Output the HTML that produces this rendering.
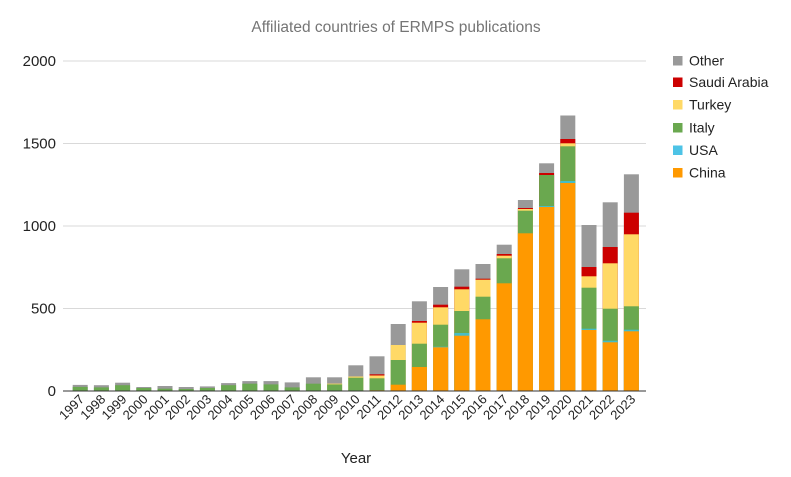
<!DOCTYPE html>
<html><head><meta charset="utf-8"><style>
html,body{margin:0;padding:0;background:#fff;}
svg{display:block;font-family:"Liberation Sans",Arial,sans-serif;}
</style></head><body>
<svg width="791" height="477" viewBox="0 0 791 477" xmlns="http://www.w3.org/2000/svg">
<rect width="791" height="477" fill="#fff"/>
<text x="396" y="32" text-anchor="middle" font-size="15.5" fill="#757575">Affiliated countries of ERMPS publications</text>
<g stroke="#d9d9d9" stroke-width="1">
<line x1="63" y1="61" x2="646" y2="61"/>
<line x1="63" y1="143.5" x2="646" y2="143.5"/>
<line x1="63" y1="226" x2="646" y2="226"/>
<line x1="63" y1="308.5" x2="646" y2="308.5"/>
</g>
<g font-size="15" fill="#222" text-anchor="end">
<text x="56" y="66">2000</text>
<text x="56" y="148.5">1500</text>
<text x="56" y="231">1000</text>
<text x="56" y="313.5">500</text>
<text x="56" y="396">0</text>
</g>
<!-- early bars: green + gray -->
<g>
<rect x="72.7" y="384.9" width="15" height="6.1" fill="#999"/><rect x="72.7" y="386.9" width="15" height="4.1" fill="#6aa84f"/>
<rect x="93.9" y="385.2" width="15" height="5.8" fill="#999"/><rect x="93.9" y="387.4" width="15" height="3.6" fill="#6aa84f"/>
<rect x="115.1" y="382.7" width="15" height="8.3" fill="#999"/><rect x="115.1" y="385.2" width="15" height="5.8" fill="#6aa84f"/>
<rect x="136.3" y="387" width="15" height="4" fill="#999"/><rect x="136.3" y="388" width="15" height="3" fill="#6aa84f"/>
<rect x="157.5" y="386" width="15" height="5" fill="#999"/><rect x="157.5" y="388.7" width="15" height="2.3" fill="#6aa84f"/>
<rect x="178.7" y="387" width="15" height="4" fill="#999"/><rect x="178.7" y="389" width="15" height="2" fill="#6aa84f"/>
<rect x="199.9" y="386.4" width="15" height="4.6" fill="#999"/><rect x="199.9" y="388" width="15" height="3" fill="#6aa84f"/>
<rect x="221.1" y="383.1" width="15" height="7.9" fill="#999"/><rect x="221.1" y="385.2" width="15" height="5.8" fill="#6aa84f"/>
<rect x="242.3" y="381.1" width="15" height="9.9" fill="#999"/><rect x="242.3" y="383.7" width="15" height="7.3" fill="#6aa84f"/>
<rect x="263.5" y="381.1" width="15" height="9.9" fill="#999"/><rect x="263.5" y="384.4" width="15" height="6.6" fill="#6aa84f"/>
<rect x="284.7" y="382.4" width="15" height="8.6" fill="#999"/><rect x="284.7" y="387.4" width="15" height="3.6" fill="#6aa84f"/>
<rect x="305.9" y="377.3" width="15" height="13.7" fill="#999"/><rect x="305.9" y="383.7" width="15" height="7.3" fill="#6aa84f"/>
<rect x="327.1" y="377.3" width="15" height="13.7" fill="#999"/><rect x="327.1" y="383.6" width="15" height="7.4" fill="#ffd966"/><rect x="327.1" y="384.4" width="15" height="6.6" fill="#6aa84f"/>
<rect x="348.3" y="365.3" width="15" height="25.7" fill="#999"/><rect x="348.3" y="376.5" width="15" height="14.5" fill="#ffd966"/><rect x="348.3" y="377.7" width="15" height="13.3" fill="#6aa84f"/>
</g>
<!-- later bars: layered from top (gray) down -->
<g>
<!-- 2011 -->
<rect x="369.5" y="356.3" width="15" height="34.7" fill="#999"/><rect x="369.5" y="374.3" width="15" height="16.7" fill="#cc0000"/><rect x="369.5" y="375.5" width="15" height="15.5" fill="#ffd966"/><rect x="369.5" y="378.3" width="15" height="12.7" fill="#6aa84f"/><rect x="369.5" y="390.3" width="15" height="0.7" fill="#ff9900"/>
<!-- 2012 -->
<rect x="390.7" y="324" width="15" height="67" fill="#999"/><rect x="390.7" y="345" width="15" height="46" fill="#ffd966"/><rect x="390.7" y="360" width="15" height="31" fill="#6aa84f"/><rect x="390.7" y="384.7" width="15" height="6.3" fill="#ff9900"/>
<!-- 2013 -->
<rect x="411.9" y="301.3" width="15" height="89.7" fill="#999"/><rect x="411.9" y="321" width="15" height="70" fill="#cc0000"/><rect x="411.9" y="322.7" width="15" height="68.3" fill="#ffd966"/><rect x="411.9" y="343.7" width="15" height="47.3" fill="#6aa84f"/><rect x="411.9" y="367" width="15" height="24" fill="#ff9900"/>
<!-- 2014 -->
<rect x="433.1" y="287" width="15" height="104" fill="#999"/><rect x="433.1" y="304.7" width="15" height="86.3" fill="#cc0000"/><rect x="433.1" y="307.3" width="15" height="83.7" fill="#ffd966"/><rect x="433.1" y="324.7" width="15" height="66.3" fill="#6aa84f"/><rect x="433.1" y="346.7" width="15" height="44.3" fill="#46bdc6"/><rect x="433.1" y="347.3" width="15" height="43.7" fill="#ff9900"/>
<!-- 2015 -->
<rect x="454.3" y="269.3" width="15" height="121.7" fill="#999"/><rect x="454.3" y="286.7" width="15" height="104.3" fill="#cc0000"/><rect x="454.3" y="289.3" width="15" height="101.7" fill="#ffd966"/><rect x="454.3" y="311" width="15" height="80" fill="#6aa84f"/><rect x="454.3" y="333" width="15" height="58" fill="#46bdc6"/><rect x="454.3" y="335.7" width="15" height="55.3" fill="#ff9900"/>
<!-- 2016 -->
<rect x="475.5" y="264" width="15" height="127" fill="#999"/><rect x="475.5" y="278.7" width="15" height="112.3" fill="#cc0000"/><rect x="475.5" y="279.7" width="15" height="111.3" fill="#ffd966"/><rect x="475.5" y="296.7" width="15" height="94.3" fill="#6aa84f"/><rect x="475.5" y="319.3" width="15" height="71.7" fill="#ff9900"/>
<!-- 2017 -->
<rect x="496.7" y="244.7" width="15" height="146.3" fill="#999"/><rect x="496.7" y="254" width="15" height="137" fill="#cc0000"/><rect x="496.7" y="255.7" width="15" height="135.3" fill="#ffd966"/><rect x="496.7" y="258.3" width="15" height="132.7" fill="#6aa84f"/><rect x="496.7" y="283.3" width="15" height="107.7" fill="#ff9900"/>
<!-- 2018 -->
<rect x="517.9" y="200" width="15" height="191" fill="#999"/><rect x="517.9" y="208" width="15" height="183" fill="#cc0000"/><rect x="517.9" y="209" width="15" height="182" fill="#ffd966"/><rect x="517.9" y="210.7" width="15" height="180.3" fill="#6aa84f"/><rect x="517.9" y="233.3" width="15" height="157.7" fill="#ff9900"/>
<!-- 2019 -->
<rect x="539.1" y="163.3" width="15" height="227.7" fill="#999"/><rect x="539.1" y="173" width="15" height="218" fill="#cc0000"/><rect x="539.1" y="175" width="15" height="216" fill="#6aa84f"/><rect x="539.1" y="206" width="15" height="185" fill="#46bdc6"/><rect x="539.1" y="207" width="15" height="184" fill="#ff9900"/>
<!-- 2020 -->
<rect x="560.3" y="115.5" width="15" height="275.5" fill="#999"/><rect x="560.3" y="139" width="15" height="252" fill="#cc0000"/><rect x="560.3" y="143.3" width="15" height="247.7" fill="#ffd966"/><rect x="560.3" y="146.3" width="15" height="244.7" fill="#6aa84f"/><rect x="560.3" y="181" width="15" height="210" fill="#46bdc6"/><rect x="560.3" y="183" width="15" height="208" fill="#ff9900"/>
<!-- 2021 -->
<rect x="581.5" y="225" width="15" height="166" fill="#999"/><rect x="581.5" y="267" width="15" height="124" fill="#cc0000"/><rect x="581.5" y="276.3" width="15" height="114.7" fill="#ffd966"/><rect x="581.5" y="287.7" width="15" height="103.3" fill="#6aa84f"/><rect x="581.5" y="328.7" width="15" height="62.3" fill="#46bdc6"/><rect x="581.5" y="330" width="15" height="61" fill="#ff9900"/>
<!-- 2022 -->
<rect x="602.7" y="202.3" width="15" height="188.7" fill="#999"/><rect x="602.7" y="247" width="15" height="144" fill="#cc0000"/><rect x="602.7" y="263.3" width="15" height="127.7" fill="#ffd966"/><rect x="602.7" y="308.7" width="15" height="82.3" fill="#6aa84f"/><rect x="602.7" y="340.7" width="15" height="50.3" fill="#46bdc6"/><rect x="602.7" y="342.3" width="15" height="48.7" fill="#ff9900"/>
<!-- 2023 -->
<rect x="623.9" y="174.3" width="15" height="216.7" fill="#999"/><rect x="623.9" y="212.7" width="15" height="178.3" fill="#cc0000"/><rect x="623.9" y="234.3" width="15" height="156.7" fill="#ffd966"/><rect x="623.9" y="306.3" width="15" height="84.7" fill="#6aa84f"/><rect x="623.9" y="329.7" width="15" height="61.3" fill="#46bdc6"/><rect x="623.9" y="331.3" width="15" height="59.7" fill="#ff9900"/>
</g>
<line x1="63" y1="391" x2="646" y2="391" stroke="#333" stroke-width="1"/>
<g font-size="13" fill="#222" text-anchor="end">
<text transform="translate(85,400) rotate(-45)">1997</text>
<text transform="translate(106.2,400) rotate(-45)">1998</text>
<text transform="translate(127.4,400) rotate(-45)">1999</text>
<text transform="translate(148.6,400) rotate(-45)">2000</text>
<text transform="translate(169.8,400) rotate(-45)">2001</text>
<text transform="translate(191,400) rotate(-45)">2002</text>
<text transform="translate(212.2,400) rotate(-45)">2003</text>
<text transform="translate(233.4,400) rotate(-45)">2004</text>
<text transform="translate(254.6,400) rotate(-45)">2005</text>
<text transform="translate(275.8,400) rotate(-45)">2006</text>
<text transform="translate(297,400) rotate(-45)">2007</text>
<text transform="translate(318.2,400) rotate(-45)">2008</text>
<text transform="translate(339.4,400) rotate(-45)">2009</text>
<text transform="translate(360.6,400) rotate(-45)">2010</text>
<text transform="translate(381.8,400) rotate(-45)">2011</text>
<text transform="translate(403,400) rotate(-45)">2012</text>
<text transform="translate(424.2,400) rotate(-45)">2013</text>
<text transform="translate(445.4,400) rotate(-45)">2014</text>
<text transform="translate(466.6,400) rotate(-45)">2015</text>
<text transform="translate(487.8,400) rotate(-45)">2016</text>
<text transform="translate(509,400) rotate(-45)">2017</text>
<text transform="translate(530.2,400) rotate(-45)">2018</text>
<text transform="translate(551.4,400) rotate(-45)">2019</text>
<text transform="translate(572.6,400) rotate(-45)">2020</text>
<text transform="translate(593.8,400) rotate(-45)">2021</text>
<text transform="translate(615,400) rotate(-45)">2022</text>
<text transform="translate(636.2,400) rotate(-45)">2023</text>
</g>
<text x="356" y="463" text-anchor="middle" font-size="15" fill="#222">Year</text>
<g font-size="14" fill="#222">
<rect x="673" y="56" width="9.5" height="9.5" fill="#999"/><text x="689" y="65.5">Other</text>
<rect x="673" y="77.5" width="9.5" height="9.5" fill="#cc0000"/><text x="689" y="87">Saudi Arabia</text>
<rect x="673" y="100" width="9.5" height="9.5" fill="#ffd966"/><text x="689" y="109.5">Turkey</text>
<rect x="673" y="123" width="9.5" height="9.5" fill="#6aa84f"/><text x="689" y="132.5">Italy</text>
<rect x="673" y="145.5" width="9.5" height="9.5" fill="#4dc3e6"/><text x="689" y="155">USA</text>
<rect x="673" y="168" width="9.5" height="9.5" fill="#ff9900"/><text x="689" y="177.5">China</text>
</g>
</svg>
</body></html>
